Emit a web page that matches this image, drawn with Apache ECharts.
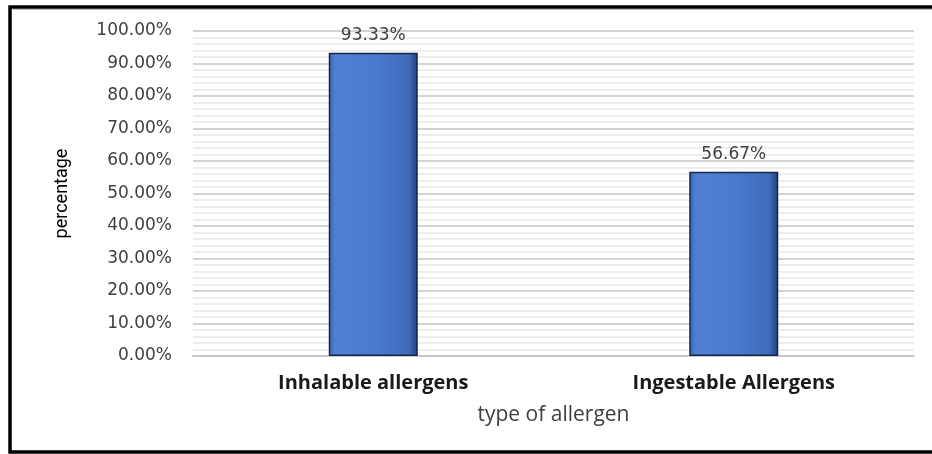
<!DOCTYPE html>
<html>
<head>
<meta charset="utf-8">
<script src="https://cdn.jsdelivr.net/npm/echarts@6/dist/echarts.min.js"></script>
<style>
html,body{margin:0;padding:0;background:#fff;}
#chart{width:932px;height:454px;}
</style>
</head>
<body>
<div id="chart"></div>
<script>
var categories = ['Inhalable allergens', 'Ingestable Allergens'];
var percentages = [93.33, 56.67];
var yTicks = { min: 0, max: 100, interval: 10 };
var yAxisTitle = 'percentage';
var xAxisTitle = 'type of allergen';

var chart = echarts.init(document.getElementById('chart'));
var option = {
  backgroundColor: '#ffffff',
  animation: false,
  graphic: [
    { type: 'rect', shape: { x: 10, y: 7, width: 940, height: 445 },
      style: { fill: 'none', stroke: '#000', lineWidth: 3.5 }, z: 100 },
    { type: 'line', shape: { x1: 13, y1: 9.5, x2: 932, y2: 9.5 },
      style: { stroke: '#bbb', lineWidth: 1 }, z: 100 }
  ],
  grid: { left: 193, right: 18, top: 31, bottom: 98, containLabel: false },
  xAxis: {
    type: 'category',
    data: categories,
    name: xAxisTitle,
    nameLocation: 'middle',
    nameGap: 49,
    nameTextStyle: { fontFamily: 'Open Sans', fontSize: 21, color: '#404040' },
    axisLine: { show: true, lineStyle: { color: '#c8c8c8', width: 2 } },
    axisTick: { show: false },
    axisLabel: { margin: 17, fontFamily: 'Open Sans', fontWeight: 'bold', fontSize: 20, color: '#1a1a1a' }
  },
  yAxis: {
    type: 'value',
    min: yTicks.min,
    max: yTicks.max,
    interval: yTicks.interval,
    name: yAxisTitle,
    nameLocation: 'middle',
    nameRotate: 90,
    nameGap: 122,
    nameTextStyle: { fontFamily: 'Roboto', fontSize: 18, color: '#000' },
    axisLine: { show: false },
    axisTick: { show: false },
    axisLabel: {
      margin: 21, fontFamily: 'DejaVu Sans', fontSize: 17, color: '#404040',
      formatter: function (v) { return v.toFixed(2) + '%'; }
    },
    splitLine: { show: true, lineStyle: { color: '#c4c4c4', width: 1.5 } },
    minorTick: { show: false, splitNumber: 5 },
    minorSplitLine: { show: true, lineStyle: { color: '#e8e8e8', width: 1.5 } }
  },
  series: [{
    type: 'bar',
    data: percentages,
    barWidth: 89,
    itemStyle: {
      color: {
        type: 'linear', x: 0, y: 0, x2: 1, y2: 0,
        colorStops: [
          { offset: 0, color: '#3a63a8' },
          { offset: 0.07, color: '#4f80d4' },
          { offset: 0.5, color: '#4a7bcf' },
          { offset: 0.9, color: '#3f6cbb' },
          { offset: 1, color: '#1f3f78' }
        ]
      },
      borderColor: '#14264a',
      borderWidth: 1.5
    },
    label: {
      show: true, position: 'top', distance: 9,
      fontFamily: 'DejaVu Sans', fontSize: 17, color: '#404040',
      formatter: function (p) { return p.value.toFixed(2) + '%'; }
    }
  }]
};
chart.setOption(option);
</script>
</body>
</html>
